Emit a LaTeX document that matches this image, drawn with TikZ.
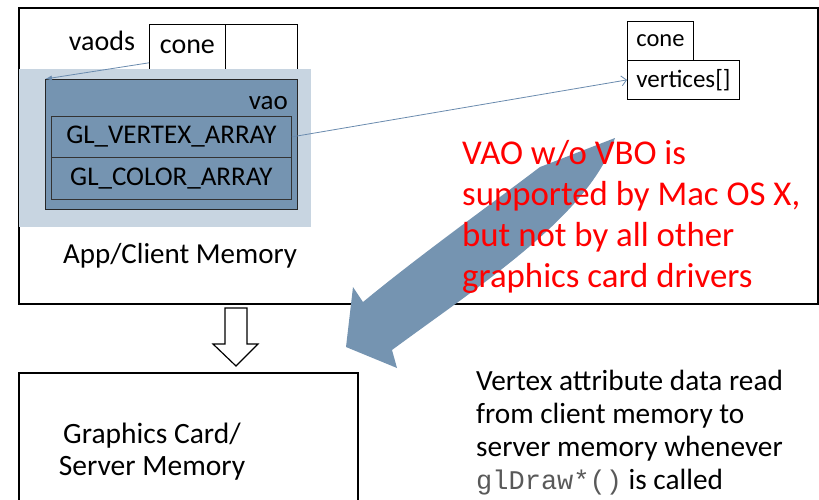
\documentclass[tikz,border=0pt]{standalone}
\usepackage{fontspec}
\setmainfont{Carlito}
\setmonofont{Liberation Mono}
\usetikzlibrary{arrows.meta}
\definecolor{steel}{HTML}{7594B1}
\definecolor{pale}{HTML}{C8D5E1}
\definecolor{linkblue}{HTML}{6A8BAE}
\definecolor{warnred}{HTML}{FF0000}
\begin{document}
\begin{tikzpicture}[x=1pt,y=-1pt,
  frame/.style={draw=black, line width=1.8pt, inner sep=0pt, anchor=north west},
  cell/.style={draw=black, line width=0.8pt, fill=white, inner sep=0pt, anchor=north west},
  slot/.style={draw=black!80, line width=0.8pt, fill=steel, inner sep=0pt, anchor=north west,
    font=\fontsize{27}{30}\selectfont},
  link/.style={draw=linkblue, line width=0.8pt},
  txt/.style={inner sep=0pt, font=\fontsize{29.3}{32.7}\selectfont, align=left},
]
\useasboundingbox (0,0) rectangle (819,499);

% frames
\node[frame, minimum width=799pt, minimum height=296pt] (client) at (18,7) {};
\node[frame, minimum width=339pt, minimum height=150pt] (server) at (18,372) {};

% vaods array
\node[inner sep=0pt, anchor=base, font=\fontsize{28}{30}\selectfont] (vaodslbl) at (102,50) {vaods};
\node[cell, minimum width=76pt, minimum height=45pt, font=\fontsize{28}{30}\selectfont] (conecell) at (149,24) {\raisebox{-4pt}{cone}};
\node[cell, minimum width=72pt, minimum height=45pt] (emptycell) at (225,24) {};

% vao
\node[fill=pale, inner sep=0pt, anchor=north west, minimum width=292pt, minimum height=158pt] (palebg) at (19,69) {};
\node[draw=black!85, line width=0.9pt, fill=steel, inner sep=0pt, anchor=north west, minimum width=252pt, minimum height=130pt] (vao) at (45,79) {};
\node[inner sep=0pt, anchor=base east, font=\fontsize{27}{30}\selectfont] (vaolbl) at (288,109) {vao};
\node[slot, minimum width=240pt, minimum height=41pt] (glv) at (51,116) {\raisebox{-1.5pt}{GL\_VERTEX\_ARRAY}};
\node[slot, minimum width=240pt, minimum height=42pt] (glc) at (51,157) {GL\_COLOR\_ARRAY};
\node[inner sep=0pt, anchor=base, font=\fontsize{29}{30}\selectfont] (applbl) at (180,263) {App/Client Memory};

% cone object
\node[cell, minimum width=66pt, minimum height=39pt, font=\fontsize{24.5}{26}\selectfont] (conebox) at (627,21) {cone};
\node[cell, minimum width=112pt, minimum height=39pt, font=\fontsize{25}{26}\selectfont] (vertbox) at (627,60) {vertices[]};

% pointers
\draw[link, -{Latex[length=7pt,width=5pt]}] ([yshift=7pt]conecell.south west) -- (vao.north west);
\draw[link, -{Straight Barb[length=5pt,width=10pt]}] (glv.east) -- (vertbox.west);

% big curved arrow
\fill[steel] (615,138) -- (540,167) .. controls (490,205) and (420,255) .. (363,302)
  -- (353,287) -- (346,347) -- (397,368) -- (392,350)
  .. controls (480,285) and (590,215) .. cycle;

% red note
\node[txt, anchor=base west, text=warnred, font=\fontsize{34.8}{40.7}\selectfont] (note) at (462,287)
  {VAO w/o VBO is\\supported by Mac OS X,\\but not by all other\\graphics card drivers};

% small hollow arrow
\draw[line width=1.2pt, fill=white] (225,308) -- (247,308) -- (247,344) -- (258,344) -- (236,366)
  -- (213,344) -- (225,344) -- cycle;

% server label
\node[txt, anchor=base, align=center, font=\fontsize{29.5}{32}\selectfont] (serverlbl) at (152,475)
  {Graphics Card/\\Server Memory};

% bottom note
\node[txt, anchor=base west] (readnote) at (476,489)
  {Vertex attribute data read\\from client memory to\\server memory whenever\\{\ttfamily\fontsize{27}{30}\selectfont\color{black!65}glDraw*()} is called};
\end{tikzpicture}
\end{document}
